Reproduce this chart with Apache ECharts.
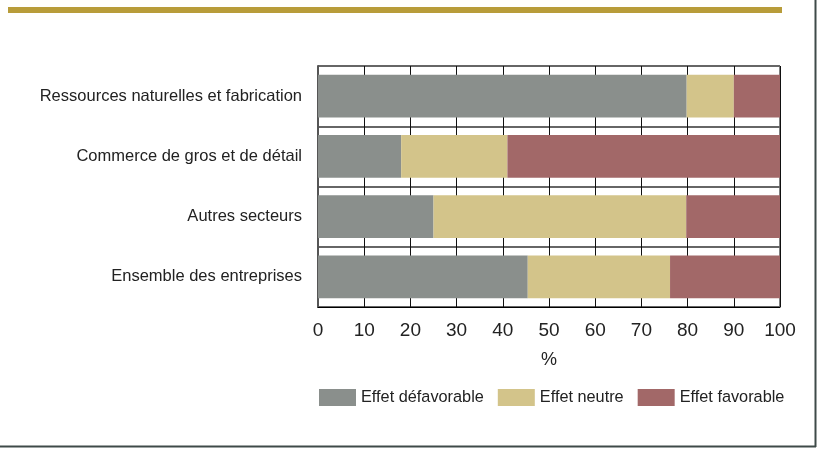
<!DOCTYPE html>
<html>
<head>
<meta charset="utf-8">
<script src="https://cdn.jsdelivr.net/npm/echarts@6/dist/echarts.min.js"></script>
<style>html,body{margin:0;padding:0;background:#fff}#c{width:818px;height:450px}</style>
</head>
<body>
<div id="c"></div>
<script>
const categories = ["Ressources naturelles et fabrication", "Commerce de gros et de détail", "Autres secteurs", "Ensemble des entreprises"];
const seriesNames = ["Effet défavorable", "Effet neutre", "Effet favorable"];
const defavorable = [79.8, 18, 25, 45.4];
const neutre = [10.2, 23, 54.7, 30.8];
const favorable = [10, 59, 20.3, 23.8];
const xTicks = [0, 10, 20, 30, 40, 50, 60, 70, 80, 90, 100];
const colors = ["#8a8f8c", "#d3c48a", "#a26868"];

const chart = echarts.init(document.getElementById('c'));
const font = '"Liberation Sans", Arial, sans-serif';
const dataSets = [defavorable, neutre, favorable];
chart.setOption({
  animation: false,
  textStyle: {fontFamily: font},
  grid: {left: 318, right: 38, top: 66, bottom: 143, show: true, borderColor: '#000', borderWidth: 1},
  legend: {
    left: 314, top: 384, itemWidth: 37, itemHeight: 17, itemGap: 14,
    textStyle: {fontSize: 16.3, color: '#222', fontFamily: font},
    data: seriesNames.map((n, i) => ({name: n, icon: 'rect', itemStyle: {color: colors[i]}}))
  },
  xAxis: {
    type: 'value', min: xTicks[0], max: xTicks[xTicks.length - 1], interval: 10,
    name: '%', nameLocation: 'middle', nameGap: 44,
    nameTextStyle: {fontSize: 18, color: '#222'},
    axisLine: {show: true, lineStyle: {color: '#000', width: 1}},
    axisTick: {show: false},
    axisLabel: {fontSize: 19, color: '#222', margin: 14},
    splitLine: {show: true, lineStyle: {color: '#111', width: 1}}
  },
  yAxis: {
    type: 'category', data: categories, inverse: true,
    axisLine: {show: true, lineStyle: {color: '#555', width: 2}},
    axisTick: {show: false},
    axisLabel: {fontSize: 16.5, color: '#222', margin: 16},
    splitLine: {show: true, lineStyle: {color: '#666', width: 2}}
  },
  series: seriesNames.map((n, i) => ({
    name: n, type: 'bar', stack: 'total', data: dataSets[i], barWidth: '71%',
    itemStyle: {color: colors[i]}
  })),
  graphic: [
    {type: 'rect', shape: {x: 8, y: 7, width: 774, height: 6}, style: {fill: '#b89c3a'}},
    {type: 'line', shape: {x1: 815.5, y1: 0, x2: 815.5, y2: 447}, style: {stroke: '#3f4a48', lineWidth: 2}},
    {type: 'line', shape: {x1: 0, y1: 446.5, x2: 816, y2: 446.5}, style: {stroke: '#3f4a48', lineWidth: 2}}
  ]
});
</script>
</body>
</html>
